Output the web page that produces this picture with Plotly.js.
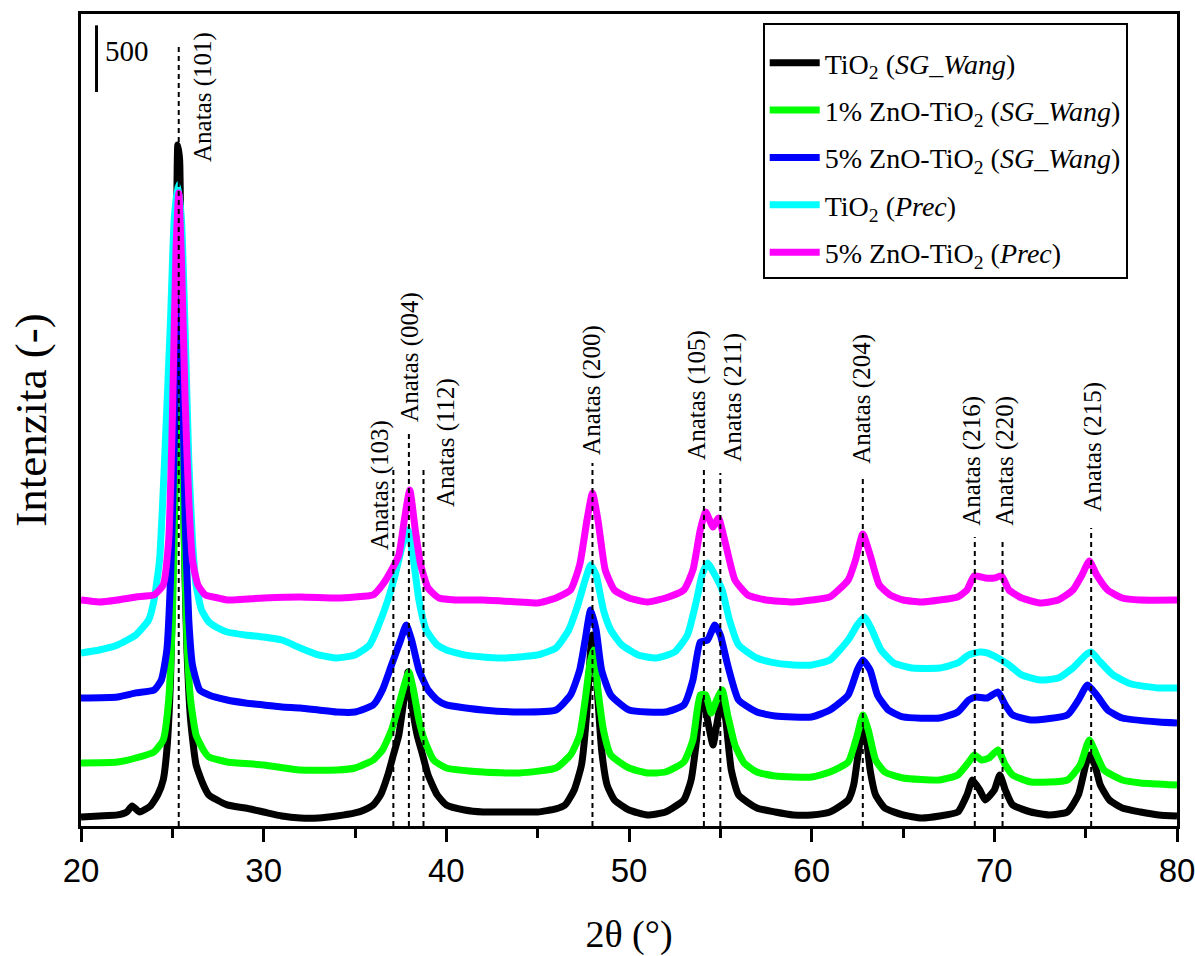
<!DOCTYPE html>
<html>
<head>
<meta charset="utf-8">
<script src="https://cdn.plot.ly/plotly-3.0.1.min.js"></script>
<style>html,body{margin:0;padding:0;background:#fff;}#chart{width:1195px;height:956px;}</style>
</head>
<body>
<div id="chart"></div>
<script>
// ---- Data (2θ in degrees, intensity in counts incl. stacking offset) ----
const seriesNames = [
  'TiO<sub>2</sub> (<i>SG_Wang</i>)',
  '1% ZnO-TiO<sub>2</sub> (<i>SG_Wang</i>)',
  '5% ZnO-TiO<sub>2</sub> (<i>SG_Wang</i>)',
  'TiO<sub>2</sub> (<i>Prec</i>)',
  '5% ZnO-TiO<sub>2</sub> (<i>Prec</i>)'
];
const seriesColors = ['#000000', '#00ff00', '#0000ff', '#00ffff', '#ff00ff'];

const blackX = [20,21,22,22.5,22.8,23.2,23.8,24.2,24.5,24.7,24.9,25.0,25.1,25.2,25.3,25.4,25.5,25.6,25.7,25.8,26.0,26.3,26.7,27,28,29,30,31,32,33,34,35,35.5,36,36.4,36.8,37.1,37.4,37.6,37.8,37.9,38.0,38.2,38.4,38.7,39,39.5,40,41,42,43,44,45,46,46.5,47,47.4,47.7,47.9,48,48.1,48.3,48.5,48.8,49.2,50,51,52,53,53.4,53.7,53.9,54.1,54.3,54.6,54.8,55,55.1,55.3,55.6,56,57,58,59,60,61,62,62.3,62.5,62.7,62.8,63,63.2,63.5,64,65,66,67,68,68.5,68.8,69.2,69.5,70,70.3,70.6,71,72,73,74,74.6,75,75.2,75.5,75.8,76.3,77,78,79,80];
const blackY = [68,75,83,105,150,105,150,233,345,570,1095,1695,2670,3945,5108,4995,3720,2595,1845,1320,795,458,308,233,158,135,105,75,60,60,75,98,120,158,233,383,533,683,870,1058,1155,1020,833,683,533,383,233,158,120,105,105,105,105,128,158,270,458,870,1320,1433,1358,945,570,308,195,120,83,105,195,345,645,908,945,795,608,758,908,945,795,420,233,135,105,83,83,105,195,308,495,683,735,645,420,233,135,83,60,75,105,233,345,270,195,270,383,270,158,105,83,105,233,458,533,458,308,195,135,105,83,75];

const greenX = [20,22,23,24,24.5,24.8,25.0,25.2,25.35,25.5,25.6,25.8,26.0,26.3,26.7,27,28,30,32,34,35,36,36.5,37,37.4,37.7,37.95,38.2,38.5,38.8,39.3,40,42,44,46,46.8,47.3,47.6,47.85,48.05,48.3,48.6,49,50,51,52,53,53.5,53.9,54.2,54.5,54.8,55.1,55.4,55.8,56.3,57,58,60,61,62,62.5,62.8,63.1,63.5,64,65,67,68,68.6,68.9,69.3,69.7,70.2,70.6,71,72,74,74.7,75.2,75.6,76,77,78,80];
const greenY = [473,480,510,555,645,945,1545,2820,4470,3045,2445,1395,945,683,570,518,480,458,420,420,435,495,570,720,908,1058,1155,1020,795,645,495,435,405,398,435,533,683,945,1208,1320,1020,720,533,435,398,405,480,645,983,983,848,945,1020,833,608,473,405,375,368,405,480,683,833,720,495,405,360,345,383,480,533,495,510,570,458,383,330,345,458,645,533,420,345,323,308];

const blueX = [20,22,23,24,24.4,24.7,24.9,25.1,25.3,25.5,25.7,25.9,26.1,26.5,27,28,29,30,31,32,33,34,35,36,36.5,37,37.5,37.8,38.1,38.5,39,39.5,40,42,44,46,46.8,47.3,47.6,47.9,48.2,48.5,49,50,52,53,53.5,53.9,54.3,54.7,55,55.4,56,57,58,60,61,62,62.5,62.8,63.2,63.6,64.2,65,67,68,68.6,69,69.6,70.2,70.6,71,72,74,74.6,75.1,75.6,76.2,77,79,80];
const blueY = [960,968,998,1020,1095,1320,1845,2820,4170,3720,2295,1545,1208,1020,983,945,923,908,893,885,870,855,855,908,1020,1208,1395,1508,1395,1170,1020,945,908,870,855,870,983,1170,1395,1620,1470,1170,983,870,855,908,1095,1380,1395,1508,1433,1208,945,855,825,818,870,983,1170,1245,1170,983,870,818,810,855,945,968,960,1005,908,833,795,833,945,1058,983,870,810,780,773];

const cyanX = [20,21,22,23,23.7,24,24.3,24.6,24.9,25.1,25.3,25.5,25.7,25.9,26.1,26.3,26.6,27,27.5,28,29,30,31,32,33,34,35,35.8,36.3,36.8,37.2,37.6,37.9,38.2,38.5,38.9,39.5,40,41,42,43,44,45,46,46.7,47.2,47.6,47.9,48.2,48.6,49,49.6,50.5,51.5,52.5,53.2,53.7,54,54.3,54.7,55.1,55.5,56,57,58,59,60,61,62,62.5,62.9,63.3,63.8,64.5,65.5,67,68,68.6,69.2,69.6,70.2,70.8,71.5,72.5,73.5,74.3,75,75.3,75.8,76.5,77.5,79,80];
const cyanY = [1298,1320,1358,1433,1545,1695,1995,2820,3795,4545,4808,4545,3720,2745,2145,1808,1620,1530,1485,1455,1433,1418,1395,1335,1283,1260,1283,1358,1508,1695,1883,2108,2220,1995,1695,1470,1358,1320,1283,1268,1260,1268,1283,1335,1470,1658,1845,1958,1883,1620,1470,1358,1283,1260,1305,1433,1695,1883,1973,1883,1770,1545,1358,1260,1223,1208,1208,1245,1395,1508,1568,1470,1320,1223,1185,1185,1223,1283,1305,1298,1260,1208,1133,1095,1110,1185,1283,1305,1230,1133,1065,1035,1035];

const magentaX = [20,21,22,23,24,24.5,24.8,25,25.2,25.35,25.5,25.7,25.9,26.1,26.4,26.8,27.5,28,30,32,34,35,36,36.5,37,37.4,37.7,38,38.3,38.6,39,39.6,40.5,42,44,45,46,46.8,47.3,47.7,48,48.3,48.7,49.2,50,51,52,53,53.5,53.9,54.2,54.6,54.9,55.3,55.8,56.5,57.5,59,60,61,62,62.4,62.8,63.2,63.7,64.3,65,66,67,68,68.5,68.9,69.5,70,70.4,70.8,71.5,72.5,73.5,74.3,74.8,75.2,75.6,76.2,77,78,80];
const magentaY = [1695,1680,1695,1718,1733,1808,2145,3045,4320,4748,4245,3195,2445,1995,1808,1733,1710,1695,1710,1718,1710,1718,1733,1808,1920,2033,2295,2520,2220,1958,1785,1710,1695,1695,1680,1673,1710,1770,1958,2295,2498,2295,1920,1770,1710,1680,1710,1770,1920,2220,2355,2243,2310,2108,1845,1733,1695,1680,1695,1718,1845,1995,2190,2033,1808,1733,1695,1680,1695,1718,1770,1875,1860,1860,1875,1770,1710,1673,1695,1770,1883,1988,1883,1770,1710,1695,1695];

// Reflection markers (anatase)
const reflLabels = ['Anatas (101)','Anatas (103)','Anatas (004)','Anatas (112)','Anatas (200)','Anatas (105)','Anatas (211)','Anatas (204)','Anatas (216)','Anatas (220)','Anatas (215)'];
const reflPos    = [25.35, 37.1, 37.95, 38.75, 48.0, 54.1, 55.0, 62.8, 68.93, 70.45, 75.3];
const reflTop    = [5873, 2693, 2970, 2700, 2723, 2693, 2648, 2610, 2168, 2145, 2235];
const labelX     = [26.68, 36.37, 38.01, 39.98, 47.97, 53.72, 55.69, 62.75, 68.77, 70.57, 75.39];
const labelY     = [5468, 2558, 3518, 2880, 3270, 3233, 3218, 3203, 2738, 2738, 2843];

// Scale bar
const scaleBarValue = 500;
const scaleBarBase = 5505;

// ---- Build figure ----
const xs = [blackX, greenX, blueX, cyanX, magentaX];
const ys = [blackY, greenY, blueY, cyanY, magentaY];
const traces = xs.map((x, i) => ({
  x: x, y: ys[i], type: 'scatter', mode: 'lines',
  name: seriesNames[i], legendgroup: 'g' + i,
  line: {color: seriesColors[i], width: 7, shape: 'spline', smoothing: 0.5},
  hoverinfo: 'skip'
}));

const serif = "'Liberation Serif', 'Times New Roman', serif";
const shapes = reflPos.map((p, i) => ({
  type: 'line', xref: 'x', yref: 'y', x0: p, x1: p, y0: 0, y1: reflTop[i],
  line: {color: '#000', width: 2, dash: '5px,4px'}
}));
shapes.push({type: 'line', xref: 'x', yref: 'y', x0: 20.85, x1: 20.85,
  y0: scaleBarBase, y1: scaleBarBase + scaleBarValue, line: {color: '#000', width: 3}});

const annotations = reflLabels.map((t, i) => ({
  x: labelX[i], y: labelY[i], xref: 'x', yref: 'y', text: t, showarrow: false,
  textangle: -90, xanchor: 'center', yanchor: 'middle',
  font: {family: serif, size: 25, color: '#000'}
}));
annotations.push({x: 21.2, y: scaleBarBase + 310, xref: 'x', yref: 'y', text: String(scaleBarValue),
  showarrow: false, xanchor: 'left', yanchor: 'middle', font: {family: serif, size: 29, color: '#000'}});

const layout = {
  width: 1195, height: 956,
  margin: {l: 81, r: 18, t: 14, b: 130},
  paper_bgcolor: '#fff', plot_bgcolor: '#fff',
  showlegend: true,
  legend: {
    x: 0.622, y: 0.989, xanchor: 'left', yanchor: 'top',
    bgcolor: '#fff', bordercolor: '#000', borderwidth: 2,
    font: {family: serif, size: 28, color: '#000'},
    title: {text: ' ', font: {family: serif, size: 10}},
    tracegroupgap: 8, traceorder: 'grouped', itemwidth: 50
  },
  xaxis: {
    range: [20, 80], tick0: 20, dtick: 10, ticks: 'outside', ticklen: 13, tickwidth: 3, tickcolor: '#000',
    minor: {dtick: 5, ticks: 'outside', ticklen: 9, tickwidth: 3, tickcolor: '#000'},
    showline: true, linewidth: 3, linecolor: '#000', mirror: true,
    showgrid: false, zeroline: false, ticklabeloverflow: 'allow',
    tickfont: {family: "'Liberation Sans', Arial, sans-serif", size: 33, color: '#000'},
    title: {text: '2θ (°)', font: {family: serif, size: 38, color: '#000'}, standoff: 34}
  },
  yaxis: {
    range: [0, 6090], showticklabels: false, ticks: '',
    showline: true, linewidth: 3, linecolor: '#000', mirror: true,
    showgrid: false, zeroline: false,
    title: {text: 'Intenzita (-)', font: {family: serif, size: 45, color: '#000'}, standoff: 18}
  },
  shapes: shapes,
  annotations: annotations
};

Plotly.newPlot('chart', traces, layout, {displayModeBar: false, staticPlot: true});
</script>
</body>
</html>
